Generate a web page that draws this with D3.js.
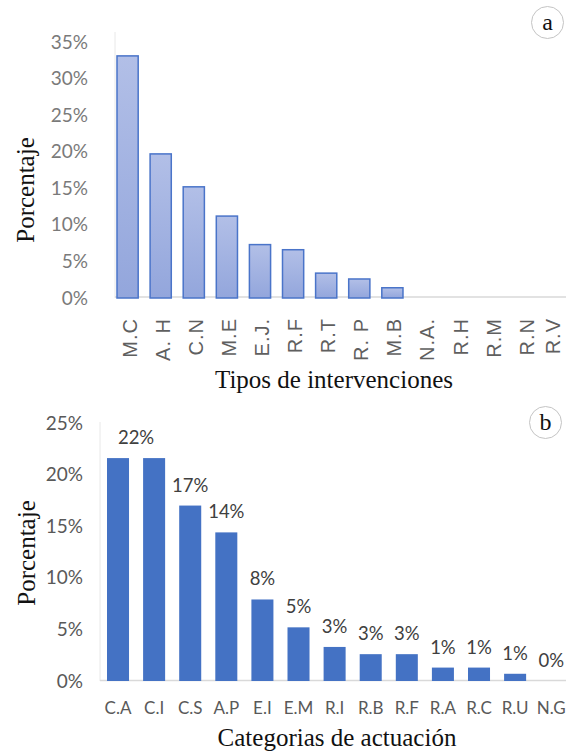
<!DOCTYPE html>
<html>
<head>
<meta charset="utf-8">
<script src="https://cdn.jsdelivr.net/npm/d3@7"></script>
<style>
  body { margin: 0; background: #fff; }
  svg { display: block; }
</style>
</head>
<body>
<div class="interactive-wrapper"></div>
<script>
// panel a - tipos de intervenciones
const catsA = ['M.C', 'A. H', 'C.N', 'M.E', 'E.J.', 'R.F', 'R.T', 'R. P', 'M.B', 'N.A.', 'R.H', 'R.M', 'R.N', 'R.V']
const valsA = [33.1, 19.7, 15.2, 11.2, 7.3, 6.6, 3.4, 2.6, 1.4, 0, 0, 0, 0, 0]
const ticksA = [0, 5, 10, 15, 20, 25, 30, 35]

// panel b - categorias de actuacion
const catsB = ['C.A', 'C.I', 'C.S', 'A.P', 'E.I', 'E.M', 'R.I', 'R. B', 'R. F', 'R.A', 'R. C', 'R.U', 'N.G']
const valsB = [21.6, 21.6, 17.0, 14.4, 7.9, 5.2, 3.3, 2.6, 2.6, 1.3, 1.3, 0.7, 0]
const labelsB = ['22%', '', '17%', '14%', '8%', '5%', '3%', '3%', '3%', '1%', '1%', '1%', '0%']
const ticksB = [0, 5, 10, 15, 20, 25]

const width = 566, height = 755
const serif = '"Liberation Serif", "Times New Roman", serif'
const sans = 'Lato, "Open Sans", sans-serif'

let svg = d3.select('.interactive-wrapper').append('svg')
.attr('width', width)
.attr('height', height)

let defs = svg.append('defs')
let grad = defs.append('linearGradient')
.attr('id', 'barGrad')
.attr('x1', 0).attr('y1', 0).attr('x2', 0).attr('y2', 1)
grad.append('stop').attr('offset', '0%').attr('stop-color', '#b2bfe7')
grad.append('stop').attr('offset', '100%').attr('stop-color', '#93a6dc')

// ---------- chart a ----------
let yA = d3.scaleLinear()
.domain([0, 35])
.range([298, 42])

let xA = d3.scaleBand()
.domain(catsA)
.range([117, 117 + 33.1 * (catsA.length - 0.36)])
.paddingInner(0.36)
.paddingOuter(0)

let gA = svg.append('g')

gA.append('line')
.attr('x1', 115).attr('x2', 115)
.attr('y1', yA(35) - 10).attr('y2', yA(0))
.attr('stroke', '#e8e8e8')

gA.append('line')
.attr('x1', 115).attr('x2', width)
.attr('y1', yA(0) - 1).attr('y2', yA(0) - 1)
.attr('stroke', '#d9d9d9')
.attr('stroke-width', 1.5)

gA.append('g')
.selectAll('rect')
.data(catsA.map((c, i) => ({cat: c, v: valsA[i]})).filter(d => d.v > 0))
.enter()
.append('rect')
.attr('x', d => xA(d.cat))
.attr('y', d => yA(d.v))
.attr('width', xA.bandwidth())
.attr('height', d => yA(0) - yA(d.v))
.attr('fill', 'url(#barGrad)')
.attr('stroke', '#4a74c9')
.attr('stroke-width', 1.5)

let axA = gA.append('g')
.attr('transform', 'translate(88,0)')
.call(d3.axisLeft(yA).tickValues(ticksA).tickSize(0).tickPadding(0).tickFormat(d => d + '%'))
axA.select('.domain').remove()
axA.selectAll('text')
.attr('font-family', sans)
.attr('font-size', 19)
.attr('fill', '#7a7a7a')

// last label is pulled in a little so it stays inside the frame
gA.append('g')
.selectAll('text')
.data(catsA)
.enter()
.append('text')
.attr('transform', d => `translate(${Math.min(xA(d) + xA.bandwidth() / 2 + 2, width - 13)},318) rotate(-90)`)
.attr('text-anchor', 'end')
.attr('dy', '0.35em')
.attr('font-family', '"Liberation Sans", Arial, sans-serif')
.attr('font-size', 20)
.attr('letter-spacing', 1)
.attr('fill', '#5f5f5f')
.text(d => d)

gA.append('text')
.attr('x', 334).attr('y', 388)
.attr('text-anchor', 'middle')
.attr('font-family', serif)
.attr('font-size', 25)
.attr('fill', '#111')
.text('Tipos de intervenciones')

gA.append('text')
.attr('transform', 'translate(34,190) rotate(-90)')
.attr('text-anchor', 'middle')
.attr('font-family', serif)
.attr('font-size', 25)
.attr('fill', '#111')
.text('Porcentaje')

// ---------- chart b ----------
let yB = d3.scaleLinear()
.domain([0, 25])
.range([681, 423])

let xB = d3.scaleBand()
.domain(catsB)
.range([107, 107 + 36.1 * (catsB.length - 0.39)])
.paddingInner(0.39)
.paddingOuter(0)

let gB = svg.append('g')

gB.append('line')
.attr('x1', 100).attr('x2', 100)
.attr('y1', yB(25) - 1).attr('y2', yB(0))
.attr('stroke', '#e8e8e8')

gB.append('line')
.attr('x1', 100).attr('x2', width)
.attr('y1', yB(0) - 0.5).attr('y2', yB(0) - 0.5)
.attr('stroke', '#d9d9d9')
.attr('stroke-width', 1.5)

gB.append('g')
.selectAll('rect')
.data(catsB.map((c, i) => ({cat: c, v: valsB[i]})))
.enter()
.append('rect')
.attr('x', d => xB(d.cat))
.attr('y', d => yB(d.v))
.attr('width', xB.bandwidth())
.attr('height', d => yB(0) - yB(d.v))
.attr('fill', '#4472c4')

// data labels; a label followed by an empty one sits between both bars
gB.append('g')
.selectAll('text')
.data(catsB.map((c, i) => ({cat: c, v: valsB[i], t: labelsB[i], shared: labelsB[i + 1] === ''})).filter(d => d.t !== ''))
.enter()
.append('text')
.attr('x', d => xB(d.cat) + xB.bandwidth() / 2 + (d.shared ? xB.step() / 2 : 0))
.attr('y', d => yB(d.v) - 14)
.attr('text-anchor', 'middle')
.attr('font-family', sans)
.attr('font-size', 18.5)
.attr('fill', '#404040')
.text(d => d.t)

let axB = gB.append('g')
.attr('transform', 'translate(83,0)')
.call(d3.axisLeft(yB).tickValues(ticksB).tickSize(0).tickPadding(0).tickFormat(d => d + '%'))
axB.select('.domain').remove()
axB.selectAll('text')
.attr('font-family', sans)
.attr('font-size', 19)
.attr('fill', '#595959')

gB.append('g')
.selectAll('text')
.data(catsB)
.enter()
.append('text')
.attr('x', d => xB(d) + xB.bandwidth() / 2)
.attr('y', 714)
.attr('text-anchor', 'middle')
.attr('font-family', sans)
.attr('font-size', 17)
.attr('fill', '#595959')
.text(d => d.replace(' ', ''))

gB.append('text')
.attr('x', 337).attr('y', 746)
.attr('text-anchor', 'middle')
.attr('font-family', serif)
.attr('font-size', 25)
.attr('fill', '#111')
.text('Categorias de actuación')

gB.append('text')
.attr('transform', 'translate(35,553) rotate(-90)')
.attr('text-anchor', 'middle')
.attr('font-family', serif)
.attr('font-size', 25)
.attr('fill', '#111')
.text('Porcentaje')

// panel tags
const tags = [{t: 'a', x: 547.5, y: 22.5}, {t: 'b', x: 545.5, y: 422.5}]

let tg = svg.append('g')
.selectAll('g')
.data(tags)
.enter()
.append('g')
.attr('transform', d => `translate(${d.x},${d.y})`)

tg.append('circle')
.attr('r', 16)
.attr('fill', '#fff')
.attr('stroke', '#c4c4c4')

tg.append('text')
.attr('text-anchor', 'middle')
.attr('dy', '0.33em')
.attr('font-family', serif)
.attr('font-size', 24)
.attr('fill', '#111')
.text(d => d.t)
</script>
</body>
</html>
